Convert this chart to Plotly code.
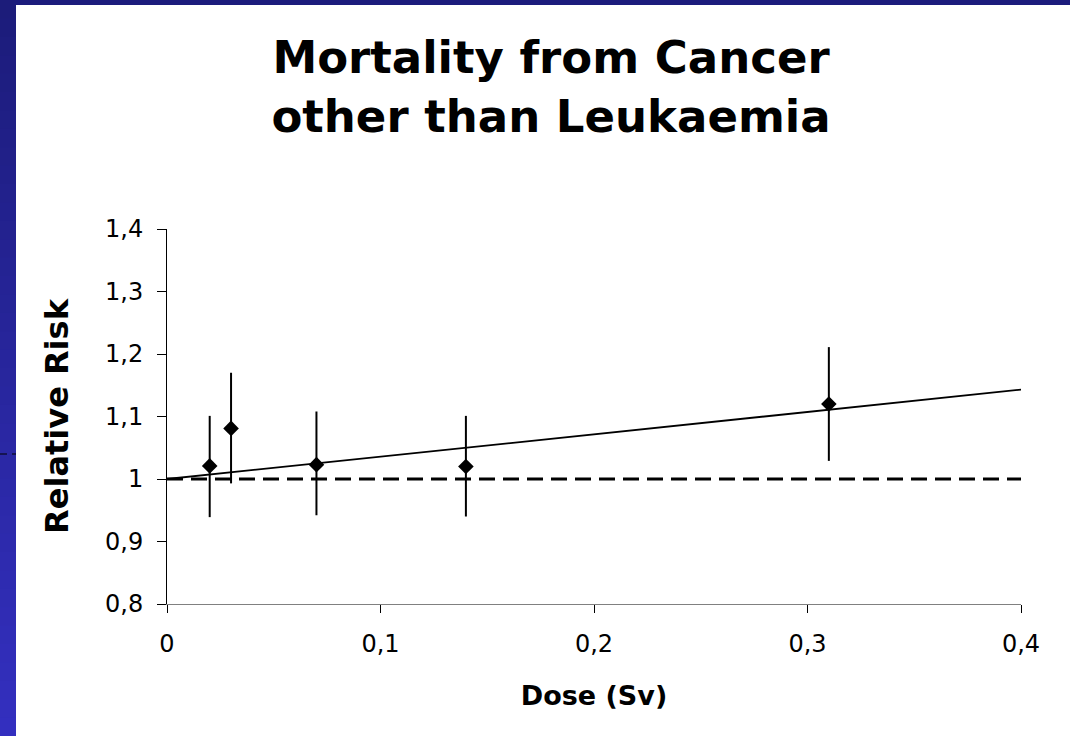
import plotly.graph_objects as go

# ---- data ----
dose = [0.02, 0.03, 0.07, 0.14, 0.31]
relative_risk = [1.021, 1.081, 1.023, 1.020, 1.120]
ci_upper = [1.101, 1.170, 1.108, 1.101, 1.211]
ci_lower = [0.939, 0.993, 0.942, 0.940, 1.029]

fit_dose = [0.0, 0.4]
fit_rr = [1.0, 1.143]

baseline_dose = [0.0, 0.4]
baseline_rr = [1.0, 1.0]

x_ticks = [0, 0.1, 0.2, 0.3, 0.4]
x_tick_labels = ["0", "0,1", "0,2", "0,3", "0,4"]
y_ticks = [0.8, 0.9, 1.0, 1.1, 1.2, 1.3, 1.4]
y_tick_labels = ["0,8", "0,9", "1", "1,1", "1,2", "1,3", "1,4"]

title_text = "Mortality from Cancer<br>other than Leukaemia"
x_title = "Dose (Sv)"
y_title = "Relative Risk"

err_plus = [u - v for u, v in zip(ci_upper, relative_risk)]
err_minus = [v - l for v, l in zip(relative_risk, ci_lower)]

FONT = "DejaVu Sans"
W, H = 1070, 736
ML, MR, MT, MB = 167, 49, 229, 132
PW, PH = W - ML - MR, H - MT - MB


def px_to_paper_x(px):
    return (px - ML) / PW


def px_to_paper_y(py):
    return (H - MB - py) / PH


fig = go.Figure()

fig.add_trace(go.Scatter(
    x=baseline_dose, y=baseline_rr, mode="lines",
    line=dict(color="black", width=3, dash="16px,8px"),
    hoverinfo="skip", showlegend=False,
))
fig.add_trace(go.Scatter(
    x=fit_dose, y=fit_rr, mode="lines",
    line=dict(color="black", width=1.8),
    hoverinfo="skip", showlegend=False,
))
fig.add_trace(go.Scatter(
    x=dose, y=relative_risk, mode="markers",
    marker=dict(symbol="diamond", size=12, color="black"),
    error_y=dict(type="data", symmetric=False, array=err_plus,
                 arrayminus=err_minus, color="black", thickness=2, width=0),
    showlegend=False,
))

# slide background frame (blue gradient strips)
shapes = []
n_bands = 40
for i in range(n_bands):
    y0 = H * i / n_bands
    t = (i + 0.5) / n_bands
    r = int(28 + (52 - 28) * t)
    g = int(28 + (48 - 28) * t)
    b = int(122 + (192 - 122) * t)
    shapes.append(dict(
        type="rect", xref="paper", yref="paper", layer="below",
        x0=px_to_paper_x(0), x1=px_to_paper_x(16),
        y0=px_to_paper_y(H), y1=px_to_paper_y(y0),
        fillcolor=f"rgb({r},{g},{b})", line=dict(width=0),
    ))
shapes.append(dict(
    type="rect", xref="paper", yref="paper", layer="below",
    x0=px_to_paper_x(15), x1=px_to_paper_x(W),
    y0=px_to_paper_y(5), y1=px_to_paper_y(0),
    fillcolor="rgb(28,28,124)", line=dict(width=0),
))
shapes.append(dict(
    type="line", xref="paper", yref="paper", layer="above",
    x0=px_to_paper_x(0), x1=px_to_paper_x(16),
    y0=px_to_paper_y(454), y1=px_to_paper_y(454),
    line=dict(color="black", width=1, dash="7px,5px"),
))

fig.update_layout(
    width=W, height=H,
    margin=dict(l=ML, r=MR, t=MT, b=MB, pad=0),
    paper_bgcolor="white", plot_bgcolor="white",
    font=dict(family=FONT, color="black"),
    shapes=shapes,
    title=dict(
        text=title_text, x=551 / W, xanchor="center", xref="container",
        y=1 - 73 / H, yanchor="top", yref="container",
        font=dict(family=FONT, size=45, color="black", weight="bold"),
    ),
    xaxis=dict(
        range=[0, 0.4], tickvals=x_ticks, ticktext=x_tick_labels,
        showgrid=False, zeroline=False, showline=True,
        linecolor="#808080", linewidth=1,
        ticks="outside", ticklen=8, tickcolor="black", tickwidth=1,
        tickfont=dict(family=FONT, size=24, color="black"),
        ticklabelstandoff=10,
        title=dict(text=x_title, standoff=29,
                   font=dict(family=FONT, size=27, color="black", weight="bold")),
    ),
    yaxis=dict(
        range=[0.8, 1.4], tickvals=y_ticks, ticktext=y_tick_labels,
        showgrid=False, zeroline=False, showline=True,
        linecolor="black", linewidth=1,
        ticks="outside", ticklen=9, tickcolor="black", tickwidth=1,
        tickfont=dict(family=FONT, size=24, color="black"),
        ticklabelstandoff=9,
        title=dict(text=y_title, standoff=26,
                   font=dict(family=FONT, size=32, color="black", weight="bold")),
    ),
)

fig.write_html("out.html")
